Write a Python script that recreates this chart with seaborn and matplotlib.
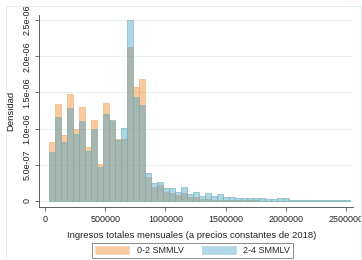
import numpy as np
import pandas as pd
import matplotlib
matplotlib.use("Agg")
import matplotlib.pyplot as plt
import matplotlib.patches as mpatches
import seaborn as sns

# Histogram bins (ingresos, pesos de 2018)
bin_start = 30000
bin_width = 50000
n_bins = 50

# Density per bin (x 1e-6)
dens_0_2 = [0.81, 1.34, 0.91, 1.48, 0.99, 1.30, 0.75, 1.125, 0.51, 1.35,
            1.10, 0.86, 0.85, 2.13, 1.58, 1.68, 0.33, 0.20, 0.22, 0.125,
            0.11, 0.08, 0.11, 0.05, 0.055, 0.03, 0.03, 0.02, 0.02, 0.015,
            0.015, 0.01, 0.01, 0.01, 0.008, 0.006, 0.005, 0.005, 0.005, 0.004,
            0.004, 0.003, 0.003, 0.003, 0.002, 0.002, 0.002, 0.002, 0.002, 0.002]
dens_2_4 = [0.68, 1.16, 0.81, 1.29, 0.92, 1.10, 0.69, 0.99, 0.47, 1.20,
            1.125, 0.84, 1.01, 2.50, 1.44, 1.33, 0.38, 0.25, 0.26, 0.18,
            0.18, 0.125, 0.19, 0.10, 0.13, 0.07, 0.11, 0.07, 0.09, 0.06,
            0.05, 0.046, 0.046, 0.045, 0.037, 0.035, 0.03, 0.03, 0.04, 0.035,
            0.02, 0.02, 0.012, 0.012, 0.01, 0.01, 0.008, 0.008, 0.008, 0.008]

labels = ["0-2 SMMLV", "2-4 SMMLV"]
x_ticks = [0, 500000, 1000000, 1500000, 2000000, 2500000]
y_ticks = [0, 5e-7, 1e-6, 1.5e-6, 2e-6, 2.5e-6]
y_ticklabels = ["0", "5.0e-07", "1.0e-06", "1.5e-06", "2.0e-06", "2.5e-06"]

edges = [bin_start + bin_width * i for i in range(n_bins + 1)]
centers = [e + bin_width / 2 for e in edges[:-1]]
df = pd.DataFrame({
    "ingreso": centers + centers,
    "densidad": np.array(dens_0_2 + dens_2_4) * 1e-6,
    "grupo": [labels[0]] * n_bins + [labels[1]] * n_bins,
})

sns.set_style("white")
plt.rcParams["font.family"] = ["Liberation Sans", "DejaVu Sans"]

fig = plt.figure(figsize=(3.62, 2.60), dpi=100)
ax = fig.add_axes([39 / 362, 1 - 207 / 260, 314 / 362, 192 / 260])

face = {labels[0]: "#f08218", labels[1]: "#3a9cc8"}
edge = {labels[0]: "#f4b27a", labels[1]: "#7ab4b4"}
for g in labels:
    sub = df[df["grupo"] == g]
    sns.histplot(data=sub, x="ingreso", weights="densidad", bins=edges,
                 stat="count", color=face[g], alpha=0.42,
                 edgecolor=edge[g], linewidth=0.45, ax=ax)

# axis limits so that 0 and 2.5e-6 land where they do in the reference
ax.set_xlim(-49800, 2558000)
ax.set_ylim(-0.083e-6, 2.569e-6)

ax.set_xticks(x_ticks)
ax.set_xticklabels([str(v) for v in x_ticks])
ax.set_yticks(y_ticks)
ax.set_yticklabels(y_ticklabels, rotation=90, va="center")
ax.tick_params(axis="both", labelsize=6.5, length=3, width=0.6,
               color="#555555", labelcolor="#222222", pad=2.5, direction="out",
               left=True, bottom=True)
ax.yaxis.grid(True, color="#e8f0f1", linewidth=0.8)
ax.xaxis.grid(False)
ax.set_axisbelow(True)
for side in ["top", "right"]:
    ax.spines[side].set_visible(False)
for side in ["left", "bottom"]:
    ax.spines[side].set_color("#444444")
    ax.spines[side].set_linewidth(0.6)

ax.set_xlabel("Ingresos totales mensuales (a precios constantes de 2018)",
              fontsize=6.8, color="#222222")
ax.set_ylabel("Densidad", fontsize=6.8, color="#222222")
ax.xaxis.set_label_coords(0.487, -0.125)
ax.yaxis.set_label_coords(-0.076, 0.5)

# legend below, Stata style
handles = [mpatches.Patch(facecolor=face[g], alpha=0.4, edgecolor=edge[g],
                          linewidth=0.5, label=g) for g in labels]
leg = fig.legend(handles=handles, loc="center", ncol=2,
                 bbox_to_anchor=(192.5 / 362, 1 - 250.5 / 260),
                 fontsize=6.5, frameon=True, fancybox=False,
                 handlelength=3.8, handleheight=0.95, columnspacing=2.0,
                 handletextpad=0.8, borderpad=0.35)
leg.get_frame().set_edgecolor("#555555")
leg.get_frame().set_linewidth(0.6)

# faint outer graph-region border
fig.patches.append(mpatches.Rectangle((6 / 362, -0.1), 355 / 362, 1.1 - 6 / 260,
                                      transform=fig.transFigure, fill=False,
                                      edgecolor="#e6eef0", linewidth=0.8))

fig.savefig("out.png", dpi=100)
